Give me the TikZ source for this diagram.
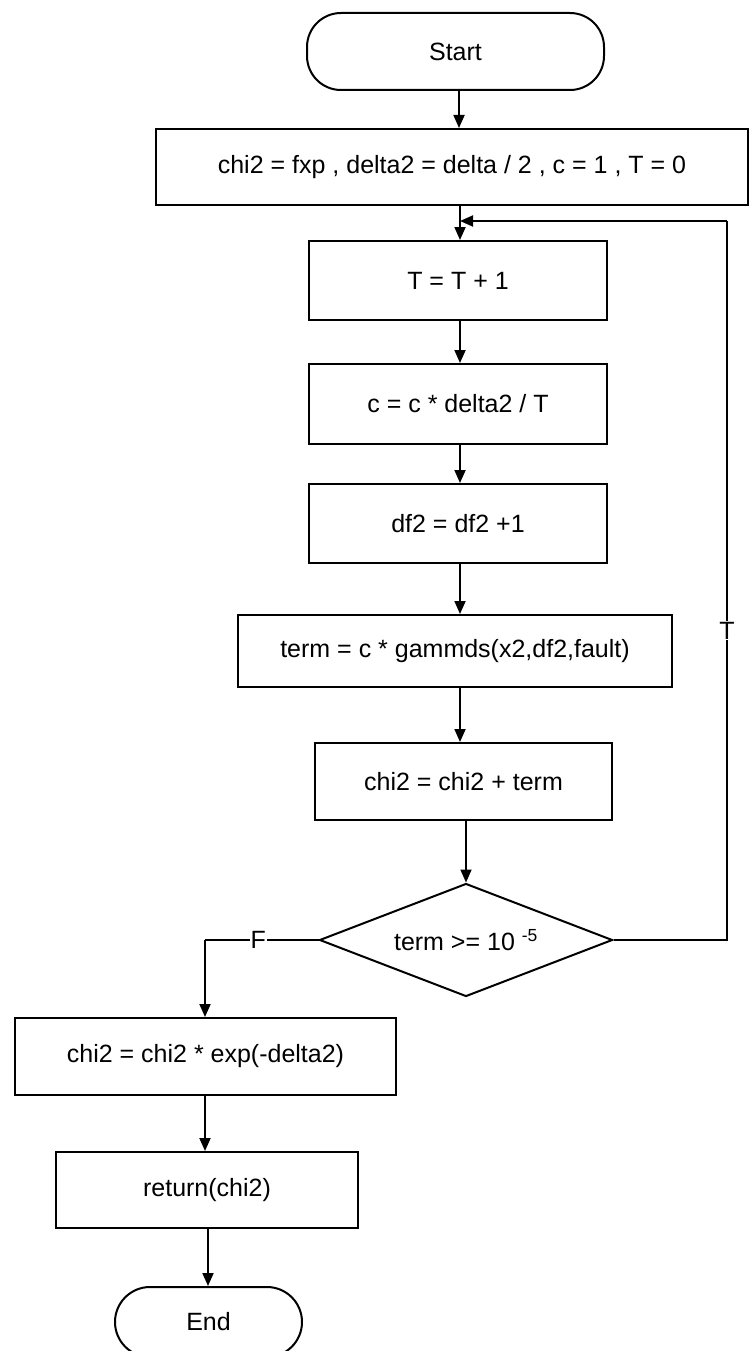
\documentclass[tikz,border=0pt]{standalone}
\usepackage{fontspec}
\setmainfont{Liberation Sans}
\usetikzlibrary{arrows.meta,shapes.geometric}
\begin{document}
\begin{tikzpicture}[x=1pt,y=-1pt,
  every node/.style={font=\fontsize{25}{30}\selectfont},
  proc/.style={draw,line width=2pt,rectangle,inner sep=0pt},
  term/.style={draw,line width=2pt,rectangle,rounded corners=34pt,inner sep=0pt},
  dec/.style={draw,line width=2pt,diamond,inner sep=0pt,aspect=2.6},
  arr/.style={line width=1.8pt,-{Triangle[length=13pt,width=11pt]}},
  lnk/.style={line width=1.8pt},
  lbl/.style={fill=white,inner sep=1pt}]
\useasboundingbox (0,0) rectangle (749,1351);
\node[term,minimum width=297pt,minimum height=77pt] (start) at (455.5,51.5) {Start};
\node[proc,minimum width=592pt,minimum height=76pt] (init) at (452,167) {chi2 = fxp , delta2 = delta / 2 , c = 1 , T = 0};
\node[proc,minimum width=298pt,minimum height=79pt] (inc) at (458,280.5) {T = T + 1};
\node[proc,minimum width=298pt,minimum height=80pt] (cc) at (458,404) {c = c * delta2 / T};
\node[proc,minimum width=298pt,minimum height=79pt] (df) at (458,523.5) {df2 = df2 +1};
\node[proc,minimum width=434pt,minimum height=72pt] (tm) at (455,651) {term = c * gammds(x2,df2,fault)};
\node[proc,minimum width=297pt,minimum height=77pt] (acc) at (463.5,781.5) {chi2 = chi2 + term};
\node[dec,minimum width=293pt,minimum height=113pt] (test) at (466,940) {term >= 10 \textsuperscript{-5}};
\node[proc,minimum width=381pt,minimum height=77pt] (fin) at (205.5,1056.5) {chi2 = chi2 * exp(-delta2)};
\node[proc,minimum width=302pt,minimum height=76pt] (ret) at (207,1190) {return(chi2)};
\node[term,minimum width=187pt,minimum height=70pt,rounded corners=35pt] (stop) at (208.5,1322) {End};
\coordinate (j) at (460,221);
\coordinate (rc) at (727,940);
\coordinate (tc) at (727,221);
\coordinate (fc) at (205,940);
\draw[arr] (start.south -| 459,0) -- (init.north -| 459,0);
\draw[arr] (init.south -| j) -- (inc.north -| j);
\draw[arr] (inc.south -| j) -- (cc.north -| j);
\draw[arr] (cc.south -| j) -- (df.north -| j);
\draw[arr] (df.south -| j) -- (tm.north -| j);
\draw[arr] (tm.south -| j) -- (acc.north -| j);
\draw[arr] (acc.south -| test.north) -- (test.north);
\draw[lnk] (test.east) -- (rc) -- node[lbl,pos=0.43]{T} (tc);
\draw[arr] (tc) -- (j);
\draw[lnk] (test.west) -- node[lbl,pos=0.53]{F} (fc);
\draw[arr] (fc) -- (fin.north -| fc);
\draw[arr] (fin.south -| 205,0) -- (ret.north -| 205,0);
\draw[arr] (ret.south -| 208,0) -- (stop.north -| 208,0);
\end{tikzpicture}
\end{document}
